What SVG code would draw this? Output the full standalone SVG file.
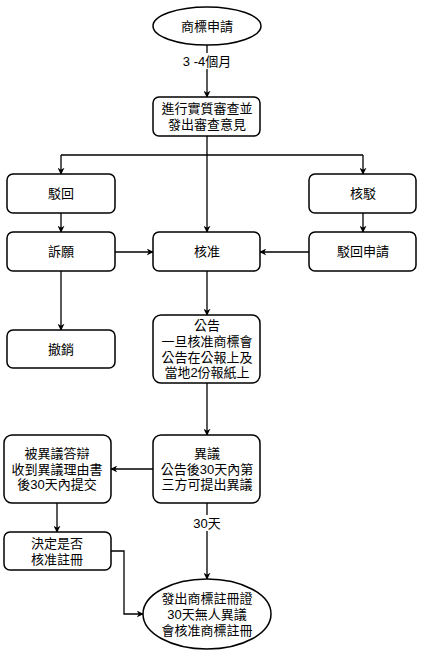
<svg xmlns="http://www.w3.org/2000/svg" width="423" height="655" viewBox="0 0 423 655">
<defs>
<style>
.n{fill:#fff;stroke:#000;stroke-width:1.5}
.t{font-family:"Liberation Sans","Noto Sans CJK TC",sans-serif;font-size:13px;fill:#000;text-anchor:middle}
.c{fill:none;stroke:#000;stroke-width:1.3}
</style>
<marker id="a" viewBox="0 0 10 10" refX="9" refY="5" markerWidth="7" markerHeight="7" orient="auto" markerUnits="userSpaceOnUse">
<path d="M0,0 L10,5 L0,10 L3,5 Z" fill="#000"/>
</marker>
</defs>
<rect width="423" height="655" fill="#fff"/>
<g id="connectors">
<path class="c" d="M207,45 V97" marker-end="url(#a)"/>
<rect x="180" y="53" width="54" height="16" fill="#fff"/>
<text class="t" x="207" y="66">3 -4個月</text>
<path class="c" d="M207,136 V232" marker-end="url(#a)"/>
<path class="c" d="M61,155 H363"/>
<path class="c" d="M61,155 V174" marker-end="url(#a)"/>
<path class="c" d="M363,155 V174" marker-end="url(#a)"/>
<path class="c" d="M61,213 V232" marker-end="url(#a)"/>
<path class="c" d="M363,213 V232" marker-end="url(#a)"/>
<path class="c" d="M115,252 H153" marker-end="url(#a)"/>
<path class="c" d="M309,252 H260" marker-end="url(#a)"/>
<path class="c" d="M61,271 V330" marker-end="url(#a)"/>
<path class="c" d="M207,271 V315" marker-end="url(#a)"/>
<path class="c" d="M207,383 V435" marker-end="url(#a)"/>
<path class="c" d="M153,469 H111" marker-end="url(#a)"/>
<path class="c" d="M57,503 V532" marker-end="url(#a)"/>
<path class="c" d="M207,503 V579" marker-end="url(#a)"/>
<rect x="190" y="515" width="34" height="16" fill="#fff"/>
<text class="t" x="207" y="528">30天</text>
<path class="c" d="M111,551 H124 V614 H143" marker-end="url(#a)"/>
</g>
<g id="n1"><ellipse class="n" cx="207" cy="26" rx="54" ry="19"/><text class="t" x="207" y="31">商標申請</text></g>
<g id="n2"><rect class="n" x="153" y="97" width="107" height="39" rx="6"/><text class="t" x="207" y="113">進行實質審查並</text><text class="t" x="207" y="129">發出審查意見</text></g>
<g id="n3"><rect class="n" x="7" y="174" width="108" height="39" rx="6"/><text class="t" x="61" y="198">駁回</text></g>
<g id="n4"><rect class="n" x="309" y="174" width="107" height="39" rx="6"/><text class="t" x="363" y="198">核駁</text></g>
<g id="n5"><rect class="n" x="7" y="232" width="108" height="39" rx="6"/><text class="t" x="61" y="256">訴願</text></g>
<g id="n6"><rect class="n" x="153" y="232" width="107" height="39" rx="6"/><text class="t" x="207" y="256">核准</text></g>
<g id="n7"><rect class="n" x="309" y="232" width="107" height="39" rx="6"/><text class="t" x="363" y="256">駁回申請</text></g>
<g id="n8"><rect class="n" x="7" y="330" width="108" height="38" rx="6"/><text class="t" x="61" y="354">撤銷</text></g>
<g id="n9"><rect class="n" x="153" y="315" width="107" height="68" rx="8"/><text class="t" x="207" y="330">公告</text><text class="t" x="207" y="346">一旦核准商標會</text><text class="t" x="207" y="362">公告在公報上及</text><text class="t" x="207" y="377">當地2份報紙上</text></g>
<g id="n10"><rect class="n" x="153" y="435" width="107" height="68" rx="8"/><text class="t" x="207" y="458">異議</text><text class="t" x="207" y="474">公告後30天內第</text><text class="t" x="207" y="489">三方可提出異議</text></g>
<g id="n11"><rect class="n" x="4" y="435" width="107" height="68" rx="8"/><text class="t" x="57" y="458">被異議答辯</text><text class="t" x="57" y="474">收到異議理由書</text><text class="t" x="57" y="489">後30天內提交</text></g>
<g id="n12"><rect class="n" x="4" y="532" width="107" height="38" rx="6"/><text class="t" x="57" y="548">決定是否</text><text class="t" x="57" y="564">核准註冊</text></g>
<g id="n13"><ellipse class="n" cx="207" cy="614" rx="64" ry="35" stroke-width="2"/><text class="t" x="207" y="603">發出商標註冊證</text><text class="t" x="207" y="619">30天無人異議</text><text class="t" x="207" y="635">會核准商標註冊</text></g>
</svg>
